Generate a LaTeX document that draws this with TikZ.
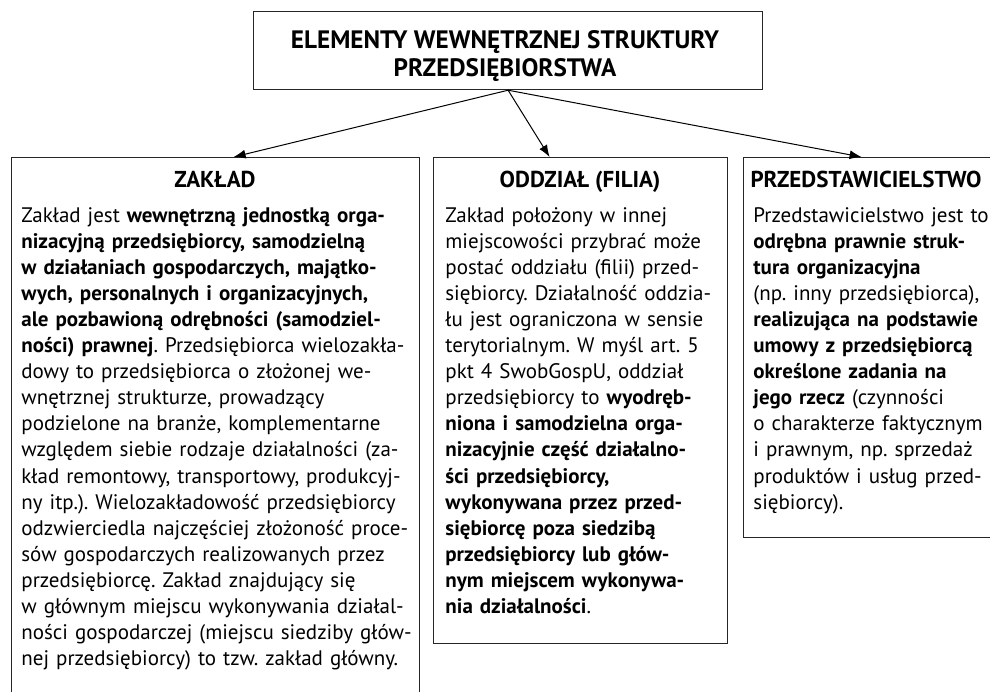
\documentclass[tikz,border=0pt]{standalone}
\usepackage{fontspec}
\setmainfont{PT Sans}
\frenchspacing
\usetikzlibrary{arrows.meta,calc}

\tikzset{
  ramka/.style={draw=black!85, line width=0.6pt, inner sep=0pt, anchor=north west},
  naglowek/.style={font=\fontsize{11.5}{12}\selectfont\bfseries, inner sep=0pt, anchor=base},
  tresc/.style={font=\fontsize{10.5}{13.05}\selectfont, align=left, text width=250pt,
    inner sep=0pt, anchor=base west},
}

\begin{document}
\begin{tikzpicture}[x=0.5pt, y=-0.5pt]
  \useasboundingbox (0,0) rectangle (990,691);
  \clip (0,0) rectangle (990,691);

  % ramki
  \begin{scope}[every node/.style={ramka}]
    \node[minimum width=254.5pt, minimum height=39pt] (elementy) at (253,11) {};
    \node[minimum width=204pt, minimum height=280pt] (zaklad) at (11,157) {};
    \node[minimum width=147pt, minimum height=243pt] (oddzial) at (433,157) {};
    \node[minimum width=126pt, minimum height=190pt] (przedst) at (743,157) {};
  \end{scope}

  % naglowki
  \node[align=center, inner sep=0pt, font=\fontsize{12.6}{12}\selectfont\bfseries]
    (elementytyt) at (505,56) {ELEMENTY WEWNĘTRZNEJ STRUKTURY\\[2pt]PRZEDSIĘBIORSTWA};
  \begin{scope}[every node/.style={naglowek}]
    \node (zakladtyt) at (215,187) {ZAKŁAD};
    \node (oddzialtyt) at (580,187) {ODDZIAŁ (FILIA)};
    \node (przedsttyt) at (866,187) {PRZEDSTAWICIELSTWO};
  \end{scope}

  % tresc
  \begin{scope}[every node/.style={tresc}]
    \node (zakladtxt) at (21,222) {%
      Zakład jest \textbf{wewnętrzną jednostką orga-}\\
      \textbf{nizacyjną przedsiębiorcy, samodzielną}\\
      \textbf{w działaniach gospodarczych, majątko-}\\
      \textbf{wych, personalnych i organizacyjnych,}\\
      \textbf{ale pozbawioną odrębności (samodziel-}\\
      \textbf{ności) prawnej}. Przedsiębiorca wielozakła-\\
      dowy to przedsiębiorca o złożonej we-\\
      wnętrznej strukturze, prowadzący\\
      podzielone na branże, komplementarne\\
      względem siebie rodzaje działalności (za-\\
      kład remontowy, transportowy, produkcyj-\\
      ny itp.). Wielozakładowość przedsiębiorcy\\
      odzwierciedla najczęściej złożoność proce-\\
      sów gospodarczych realizowanych przez\\
      przedsiębiorcę. Zakład znajdujący się\\
      w głównym miejscu wykonywania działal-\\
      ności gospodarczej (miejscu siedziby głów-\\
      nej przedsiębiorcy) to tzw. zakład główny.};
    \node (oddzialtxt) at (445,222) {%
      Zakład położony w innej\\
      miejscowości przybrać może\\
      postać oddziału (filii) przed-\\
      siębiorcy. Działalność oddzia-\\
      łu jest ograniczona w sensie\\
      terytorialnym. W myśl art. 5\\
      pkt 4 SwobGospU, oddział\\
      przedsiębiorcy to \textbf{wyodręb-}\\
      \textbf{niona i samodzielna orga-}\\
      \textbf{nizacyjnie część działalno-}\\
      \textbf{ści przedsiębiorcy,}\\
      \textbf{wykonywana przez przed-}\\
      \textbf{siębiorcę poza siedzibą}\\
      \textbf{przedsiębiorcy lub głów-}\\
      \textbf{nym miejscem wykonywa-}\\
      \textbf{nia działalności}.};
    \node (przedsttxt) at (753,222) {%
      Przedstawicielstwo jest to\\
      \textbf{odrębna prawnie struk-}\\
      \textbf{tura organizacyjna}\\
      (np. inny przedsiębiorca),\\
      \textbf{realizująca na podstawie}\\
      \textbf{umowy z przedsiębiorcą}\\
      \textbf{określone zadania na}\\
      \textbf{jego rzecz} (czynności\\
      o charakterze faktycznym\\
      i prawnym, np. sprzedaż\\
      produktów i usług przed-\\
      siębiorcy).};
  \end{scope}

  % strzalki
  \coordinate (zakladwe) at ($(zaklad.north)+(18,0)$);
  \coordinate (oddzialwe) at ($(oddzial.north)+(-31,0)$);
  \coordinate (przedstwe) at ($(przedst.north)+(-8,0)$);
  \begin{scope}[every edge/.style={draw, line width=0.5pt, -{Latex[length=6pt,width=4.5pt]}}]
    \path (elementy.south) edge (zakladwe);
    \path (elementy.south) edge (oddzialwe);
    \path (elementy.south) edge (przedstwe);
  \end{scope}

\end{tikzpicture}
\end{document}
